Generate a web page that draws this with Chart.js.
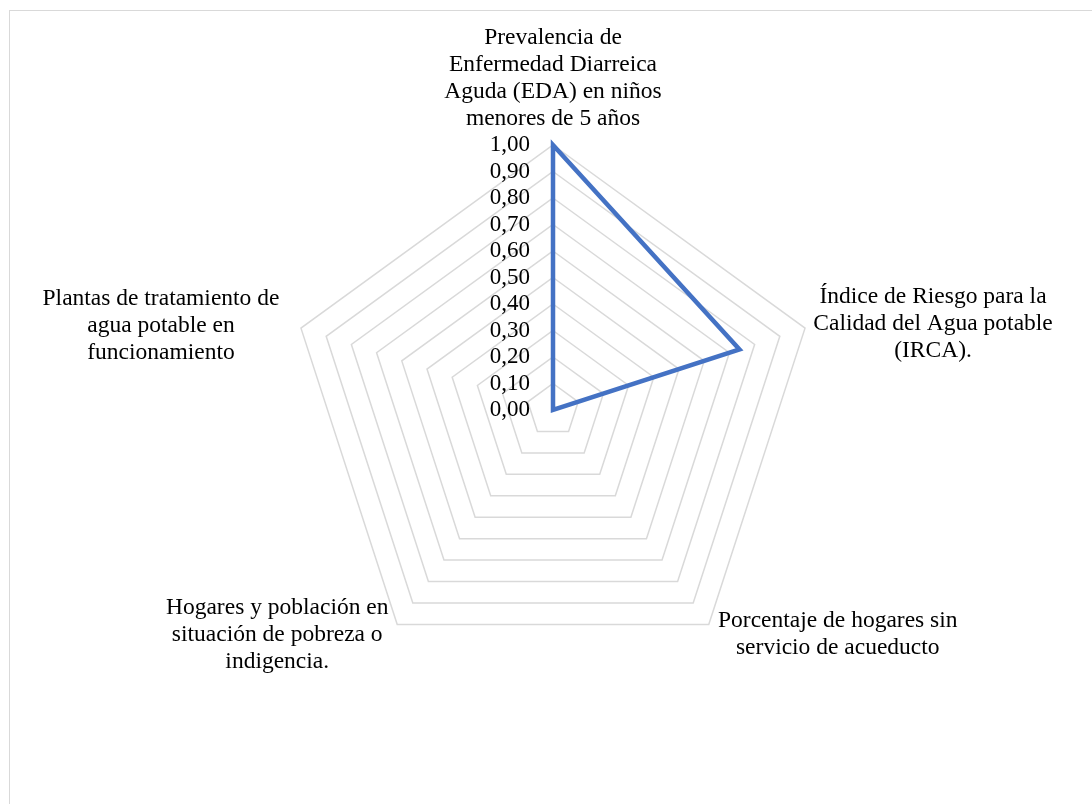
<!DOCTYPE html>
<html>
<head>
<meta charset="utf-8">
<script src="https://cdn.jsdelivr.net/npm/chart.js@4.4.1/dist/chart.umd.min.js"></script>
<style>
  body { margin: 0; background: #fff; }
  #wrap { width: 1092px; height: 804px; }
  #precarga { position: absolute; left: -9999px; font-family: "Liberation Serif"; font-size: 23px; }
</style>
</head>
<body>
<div id="precarga">Prevalencia 0,00</div>
<div id="wrap"><canvas id="radar" width="1092" height="804"></canvas></div>
<script>
const categorias = [
    ['Prevalencia de', 'Enfermedad Diarreica', 'Aguda (EDA) en niños', 'menores de 5 años'],
    ['Índice de Riesgo para la', 'Calidad del Agua potable', '(IRCA).'],
    ['Porcentaje de hogares sin', 'servicio de acueducto'],
    ['Hogares y población en', 'situación de pobreza o', 'indigencia.'],
    ['Plantas de tratamiento de', 'agua potable en', 'funcionamiento']
];
const valores = [1.00, 0.74, 0, 0, 0];
const escalaMin = 0;
const escalaMax = 1;
const escalaPaso = 0.1;

const fuente = '"Liberation Serif", Tinos, "Times New Roman", "DejaVu Serif", serif';

// desplazamiento del centro de cada etiqueta respecto al vértice exterior
const etiquetaDx = [0, 128, 129, -120, -140];
const etiquetaDy = [-67, -4, 9.5, 10, -2];
const altoLinea = 27;

const marco = {
    id: 'marco',
    beforeDraw(chart) {
        const ctx = chart.ctx;
        ctx.save();
        ctx.fillStyle = '#fff';
        ctx.fillRect(0, 0, chart.width, chart.height);
        ctx.strokeStyle = '#d9d9d9';
        ctx.lineWidth = 1;
        ctx.strokeRect(9.5, 10.5, 1200, 1000);
        ctx.restore();
    }
};

const textos = {
    id: 'textos',
    afterDraw(chart) {
        const ctx = chart.ctx;
        const r = chart.scales.r;
        ctx.save();
        ctx.fillStyle = '#000';
        ctx.textBaseline = 'middle';

        // etiquetas del eje
        ctx.font = '23px ' + fuente;
        ctx.textAlign = 'right';
        r.ticks.forEach(t => {
            const y = r.yCenter - r.getDistanceFromCenterForValue(t.value);
            ctx.fillText(t.value.toFixed(2).replace('.', ','), r.xCenter - 23, y);
        });

        // nombres de las categorías
        ctx.font = '23.5px ' + fuente;
        ctx.textAlign = 'center';
        categorias.forEach((lineas, i) => {
            const p = r.getPointPosition(i, r.drawingArea);
            const cx = p.x + etiquetaDx[i];
            const cy = p.y + etiquetaDy[i];
            const y0 = cy - (lineas.length - 1) * altoLinea / 2;
            lineas.forEach((l, k) => ctx.fillText(l, cx, y0 + k * altoLinea));
        });
        ctx.restore();
    }
};

function dibujar() {
    new Chart(document.getElementById('radar'), {
        type: 'radar',
        data: {
            labels: categorias,
            datasets: [{
                data: valores,
                borderColor: '#4472C4',
                borderWidth: 4.5,
                borderJoinStyle: 'miter',
                backgroundColor: 'rgba(0,0,0,0)',
                fill: false,
                pointRadius: 0,
                pointHoverRadius: 0,
                tension: 0
            }]
        },
        options: {
            responsive: false,
            animation: false,
            layout: { padding: { left: 288, right: 274, top: 145, bottom: 129 } },
            plugins: {
                legend: { display: false },
                tooltip: { enabled: false }
            },
            scales: {
                r: {
                    min: escalaMin,
                    max: escalaMax,
                    ticks: { stepSize: escalaPaso, display: false },
                    pointLabels: { display: false },
                    angleLines: { display: false },
                    grid: { color: '#d9d9d9', lineWidth: 1.5 }
                }
            }
        },
        plugins: [marco, textos]
    });
}

if (document.fonts && document.fonts.load) {
    document.fonts.load('23px "Liberation Serif"').then(dibujar, dibujar);
} else {
    dibujar();
}
</script>
</body>
</html>
